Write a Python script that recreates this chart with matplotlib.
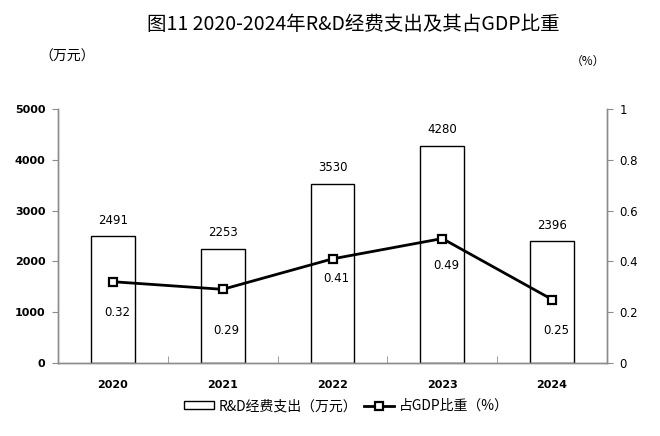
import matplotlib
matplotlib.use("Agg")
import matplotlib.pyplot as plt
from matplotlib.lines import Line2D
from matplotlib.patches import Rectangle

plt.rcParams['font.family'] = ['Noto Sans CJK JP', 'DejaVu Sans']

# data
years = ["2020", "2021", "2022", "2023", "2024"]
rd_spend = [2491, 2253, 3530, 4280, 2396]      # 万元
gdp_share = [0.32, 0.29, 0.41, 0.49, 0.25]     # %

# label offsets for the share labels (pixels, relative to marker)
share_dx = [4, 4, 4, 4, 4]
share_dy = [-31, -41, -20, -27, -31]

PX = 72 / 100  # points per pixel at dpi 100

fig = plt.figure(figsize=(6.6, 4.36), dpi=100)
ax = fig.add_axes([58 / 660, 1 - 363 / 436, (607 - 58) / 660, (363 - 109) / 436])
ax2 = ax.twinx()

x = list(range(len(years)))
gray = "#8c8c8c"
num_font = "DejaVu Sans"

# bars
ax.bar(x, rd_spend, width=0.4, color="white", edgecolor="black", linewidth=1.0, zorder=2)
for xi, v in zip(x, rd_spend):
    ax.annotate(str(v), (xi, v), xytext=(0, 16 * PX), textcoords="offset points",
                ha="center", va="center", fontsize=8.5, family=num_font)

ax.set_xlim(-0.5, len(years) - 0.5)
ax.set_ylim(0, 5000)
ax.set_yticks([0, 1000, 2000, 3000, 4000, 5000])
ax.set_yticklabels(["0", "1000", "2000", "3000", "4000", "5000"],
                   fontsize=8, family=num_font, fontweight="bold")
ax.set_xticks(x)
ax.set_xticklabels(years, fontsize=8, family=num_font, fontweight="bold")
ax.set_xticks([i + 0.5 for i in x[:-1]], minor=True)
ax.tick_params(axis="x", which="major", length=0, pad=12)
ax.tick_params(axis="x", which="minor", direction="in", length=5, color=gray)
ax.tick_params(axis="y", direction="out", length=4, color=gray, pad=5)

# line on secondary axis
ax2.plot(x, gdp_share, color="black", linewidth=2, marker="s", markersize=6,
         markerfacecolor="white", markeredgecolor="black", markeredgewidth=1.6, zorder=3)
for xi, v, dx, dy in zip(x, gdp_share, share_dx, share_dy):
    ax2.annotate(f"{v:.2f}", (xi, v), xytext=(dx * PX, dy * PX), textcoords="offset points",
                 ha="center", va="center", fontsize=8.5, family=num_font)
ax2.set_ylim(0, 1)
ax2.set_yticks([0, 0.2, 0.4, 0.6, 0.8, 1])
ax2.set_yticklabels(["0", "0.2", "0.4", "0.6", "0.8", "1"], fontsize=8.5, family=num_font)
ax2.tick_params(axis="y", direction="out", length=4, color=gray, pad=5)

for a in (ax, ax2):
    a.spines["top"].set_visible(False)
    for s in ("left", "right", "bottom"):
        a.spines[s].set_color(gray)
        a.spines[s].set_linewidth(1.0)

# titles and units
fig.text(353 / 660, 1 - 24 / 436, "图11 2020-2024年R&D经费支出及其占GDP比重",
         ha="center", va="center", fontsize=14)
fig.text(67 / 660, 1 - 57 / 436, "（万元）", ha="center", va="center", fontsize=10)
fig.text(588 / 660, 1 - 61 / 436, "（%）", ha="center", va="center", fontsize=8.5)

# legend
handles = [Rectangle((0, 0), 1, 1, facecolor="white", edgecolor="black", linewidth=1.0),
           Line2D([], [], color="black", linewidth=2, marker="s", markersize=6,
                  markerfacecolor="white", markeredgecolor="black", markeredgewidth=1.6)]
fig.legend(handles, ["R&D经费支出（万元）", "占GDP比重（%）"], loc="center",
           bbox_to_anchor=(346 / 660, 1 - 406 / 436), ncol=2, frameon=False,
           fontsize=10, handlelength=2.2, handleheight=0.45, handletextpad=0.3,
           columnspacing=0.5)

fig.savefig("out.png", dpi=100)
